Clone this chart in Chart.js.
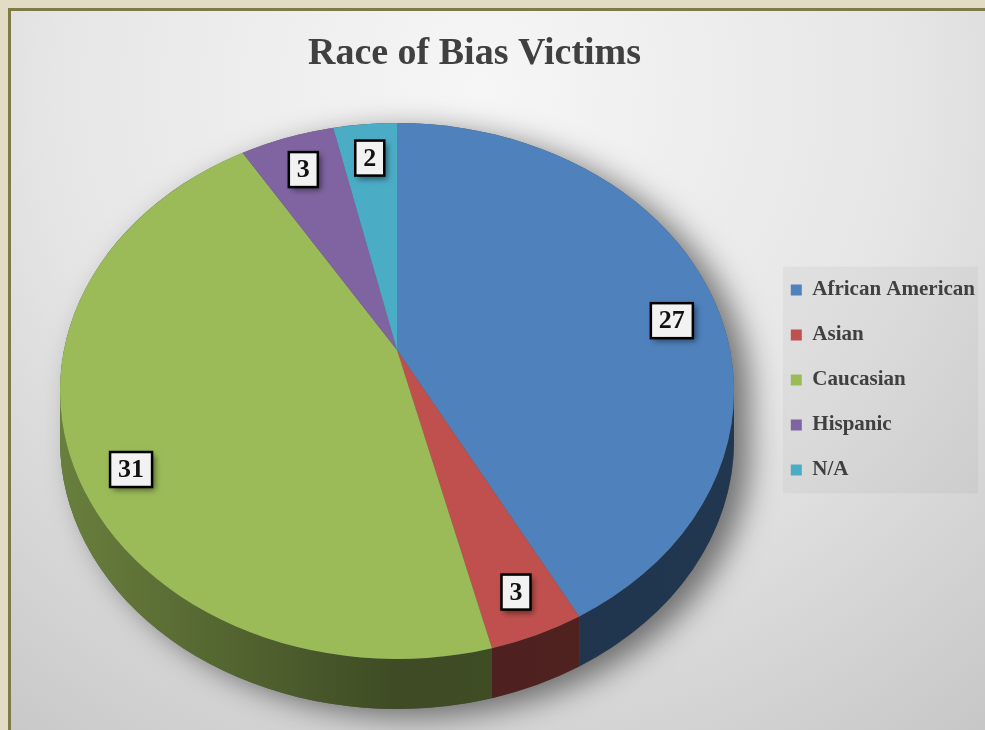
<!DOCTYPE html>
<html>
<head>
<meta charset="utf-8">
<script src="https://cdn.jsdelivr.net/npm/chart.js@4.4.1/dist/chart.umd.min.js"></script>
<style>
  html, body { margin: 0; padding: 0; background: #e2dcc5; }
  canvas { display: block; }
</style>
</head>
<body>
<canvas id="chart" width="985" height="730"></canvas>
<script>
const categories = ["African American", "Asian", "Caucasian", "Hispanic", "N/A"]
const victims = [27, 3, 31, 3, 2]
const sliceColors = ["#4f81bd", "#c0504d", "#9bbb59", "#8064a2", "#4bacc6"]

// how the flat pie is tilted into a 3D disc
const view = { cx: 397, cy: 391, rx: 337, ry: 268, depth: 50, apexLift: 41, labelAt: 0.85 }
const serif = "'Liberation Serif', 'DejaVu Serif', serif"

function shade(hex, k) {
  const n = parseInt(hex.slice(1), 16)
  const r = Math.round(((n >> 16) & 255) * k)
  const g = Math.round(((n >> 8) & 255) * k)
  const b = Math.round((n & 255) * k)
  return `rgb(${r},${g},${b})`
}

const pie3d = {
  id: "pie3d",

  beforeDraw(chart) {
    const { ctx, width, height } = chart
    ctx.save()
    ctx.fillStyle = "#e2dcc5"
    ctx.fillRect(0, 0, width, height)
    ctx.fillStyle = "#7f7b48"
    ctx.fillRect(8, 8, width, height)
    const bg = ctx.createRadialGradient(480, 90, 0, 480, 90, 850)
    bg.addColorStop(0, "#f6f6f6")
    bg.addColorStop(0.5, "#e6e6e6")
    bg.addColorStop(1, "#c4c4c4")
    ctx.fillStyle = bg
    ctx.fillRect(11, 11, width, height)

    // legend panel
    const boxes = chart.legend.legendHitBoxes
    if (boxes && boxes.length) {
      const first = boxes[0], last = boxes[boxes.length - 1]
      ctx.fillStyle = "rgba(0,0,0,0.035)"
      ctx.fillRect(first.left - 8, first.top - 13, width - 7 - (first.left - 8), last.top + last.height + 13 - (first.top - 13))
    }
    ctx.restore()
  },

  beforeDatasetsDraw(chart) {
    const ctx = chart.ctx
    const arcs = chart.getDatasetMeta(0).data
    const { cx, cy, rx, ry, depth } = view
    const apex = { x: cx, y: cy - view.apexLift }
    const at = (a, dy = 0) => ({ x: cx + rx * Math.cos(a), y: cy + dy + ry * Math.sin(a) })

    ctx.save()

    // silhouette with a soft shadow
    ctx.shadowColor = "rgba(0,0,0,0.5)"
    ctx.shadowBlur = 30
    ctx.shadowOffsetX = 16
    ctx.shadowOffsetY = 8
    ctx.beginPath()
    ctx.ellipse(cx, cy, rx, ry, 0, Math.PI, 2 * Math.PI)
    ctx.ellipse(cx, cy + depth, rx, ry, 0, 0, Math.PI)
    ctx.closePath()
    ctx.fillStyle = "#555"
    ctx.fill()
    ctx.shadowColor = "transparent"

    // outer walls, only the front half shows
    arcs.forEach((arc, i) => {
      const { startAngle, endAngle } = arc.getProps(["startAngle", "endAngle"], true)
      const a0 = Math.max(startAngle, 0)
      const a1 = Math.min(endAngle, Math.PI)
      if (a1 <= a0) return
      const color = sliceColors[i]
      const grad = ctx.createLinearGradient(cx - rx, 0, cx + rx, 0)
      grad.addColorStop(0, shade(color, 0.68))
      grad.addColorStop(0.5, shade(color, 0.4))
      grad.addColorStop(1, shade(color, 0.42))
      ctx.beginPath()
      ctx.ellipse(cx, cy, rx, ry, 0, a0, a1)
      ctx.ellipse(cx, cy + depth, rx, ry, 0, a1, a0, true)
      ctx.closePath()
      ctx.fillStyle = grad
      ctx.fill()
    })

    // top faces
    arcs.forEach((arc, i) => {
      const { startAngle, endAngle } = arc.getProps(["startAngle", "endAngle"], true)
      const p = at(startAngle)
      ctx.beginPath()
      ctx.moveTo(apex.x, apex.y)
      ctx.lineTo(p.x, p.y)
      ctx.ellipse(cx, cy, rx, ry, 0, startAngle, endAngle)
      ctx.closePath()
      ctx.fillStyle = sliceColors[i]
      ctx.fill()
    })

    // value labels
    ctx.font = `bold 26px ${serif}`
    ctx.textAlign = "center"
    ctx.textBaseline = "middle"
    arcs.forEach((arc, i) => {
      const { startAngle, endAngle } = arc.getProps(["startAngle", "endAngle"], true)
      const edge = at((startAngle + endAngle) / 2)
      const x = apex.x + (edge.x - apex.x) * view.labelAt
      const y = apex.y + (edge.y - apex.y) * view.labelAt
      const text = String(victims[i])
      const w = ctx.measureText(text).width + 16
      const h = 35
      ctx.save()
      ctx.shadowColor = "rgba(0,0,0,0.5)"
      ctx.shadowBlur = 6
      ctx.shadowOffsetX = 3
      ctx.shadowOffsetY = 3
      ctx.fillStyle = "#f2f2f2"
      ctx.fillRect(x - w / 2, y - h / 2, w, h)
      ctx.restore()
      ctx.lineWidth = 2.5
      ctx.strokeStyle = "#000"
      ctx.strokeRect(x - w / 2, y - h / 2, w, h)
      ctx.fillStyle = "#111"
      ctx.fillText(text, x, y + 1)
    })

    ctx.restore()
    return false
  }
}

new Chart(document.getElementById("chart"), {
  type: "pie",
  data: {
    labels: categories,
    datasets: [{
      data: victims,
      backgroundColor: sliceColors,
      borderWidth: 0
    }]
  },
  options: {
    responsive: false,
    animation: false,
    events: [],
    layout: { padding: { left: -36, right: 0, top: 0, bottom: -30 } },
    plugins: {
      title: {
        display: true,
        text: "Race of Bias Victims",
        color: "#404040",
        font: { family: serif, size: 38, weight: "bold" },
        padding: { top: 31, bottom: 20 }
      },
      legend: {
        position: "right",
        labels: {
          boxWidth: 11,
          boxHeight: 11,
          padding: 24,
          color: "#404040",
          font: { family: serif, size: 21, weight: "bold" }
        }
      },
      tooltip: { enabled: false }
    }
  },
  plugins: [pie3d]
})
</script>
</body>
</html>
